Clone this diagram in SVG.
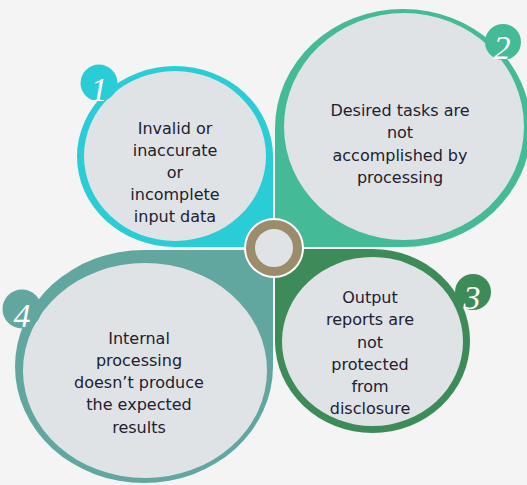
<svg xmlns="http://www.w3.org/2000/svg" width="527" height="485" viewBox="0 0 527 485">
<style>
.inner{fill:#E0E3E6}
.t{font-family:"DejaVu Sans",Verdana,sans-serif;font-size:16px;fill:#1D2130;text-anchor:middle}
.n{font-family:"Liberation Serif","DejaVu Serif",serif;font-style:italic;font-size:34px;fill:#FFFFFF;text-anchor:middle}
</style>
<rect width="527" height="485" fill="#F4F4F4"/>
<g id="node1">
<path d="M77,156.5 A98,90.5 0 0 1 273,156.5 L273,247 L175,247 A98,90.5 0 0 1 77,156.5 Z" fill="#2ACCD6"/>
<ellipse class="inner" cx="175" cy="156" rx="91" ry="85"/>
<circle cx="99" cy="83" r="18.5" fill="#2ACCD6"/>
<text class="n" x="99" y="101">1</text>
<text class="t" x="175" y="134">Invalid or</text>
<text class="t" x="175" y="156">inaccurate</text>
<text class="t" x="175" y="178">or</text>
<text class="t" x="175" y="200">incomplete</text>
<text class="t" x="175" y="222">input data</text>
</g>
<g id="node2">
<path d="M275,128 A128,119 0 0 1 531,128 A128,119 0 0 1 403,247 L275,247 Z" fill="#45BA96"/>
<ellipse class="inner" cx="404" cy="126.5" rx="120" ry="113.5"/>
<circle cx="503" cy="42" r="18" fill="#45BA96"/>
<text class="n" x="502" y="59">2</text>
<text class="t" x="400" y="116">Desired tasks are</text>
<text class="t" x="400" y="138">not</text>
<text class="t" x="400" y="161">accomplished by</text>
<text class="t" x="400" y="183">processing</text>
</g>
<g id="node3">
<path d="M275,249 L372.5,249 A97.5,92 0 0 1 470,341 A97.5,92 0 0 1 275,341 Z" fill="#3D8B58"/>
<ellipse class="inner" cx="372.5" cy="341.5" rx="90.5" ry="84.5"/>
<circle cx="473" cy="292" r="18" fill="#3D8B58"/>
<text class="n" x="472" y="309">3</text>
<text class="t" x="370" y="303">Output</text>
<text class="t" x="370" y="325">reports are</text>
<text class="t" x="370" y="348">not</text>
<text class="t" x="370" y="370">protected</text>
<text class="t" x="370" y="392">from</text>
<text class="t" x="370" y="414">disclosure</text>
</g>
<g id="node4">
<path d="M144,250 L273,250 L273,366.5 A129,116.5 0 0 1 15,366.5 A129,116.5 0 0 1 144,250 Z" fill="#62A6A0"/>
<ellipse class="inner" cx="145" cy="370.5" rx="122" ry="107.5"/>
<circle cx="22" cy="309" r="19.5" fill="#62A6A0"/>
<text class="n" x="22" y="327">4</text>
<text class="t" x="139" y="344">Internal</text>
<text class="t" x="139" y="366">processing</text>
<text class="t" x="139" y="388">doesn’t produce</text>
<text class="t" x="139" y="410">the expected</text>
<text class="t" x="139" y="433">results</text>
</g>
<g id="center">
<circle cx="274" cy="248" r="30" fill="#FFFFFF"/>
<circle cx="274" cy="248" r="23.5" fill="#E0E3E6" stroke="#9B8C6C" stroke-width="9"/>
</g>
<g id="connectors"/>
</svg>
